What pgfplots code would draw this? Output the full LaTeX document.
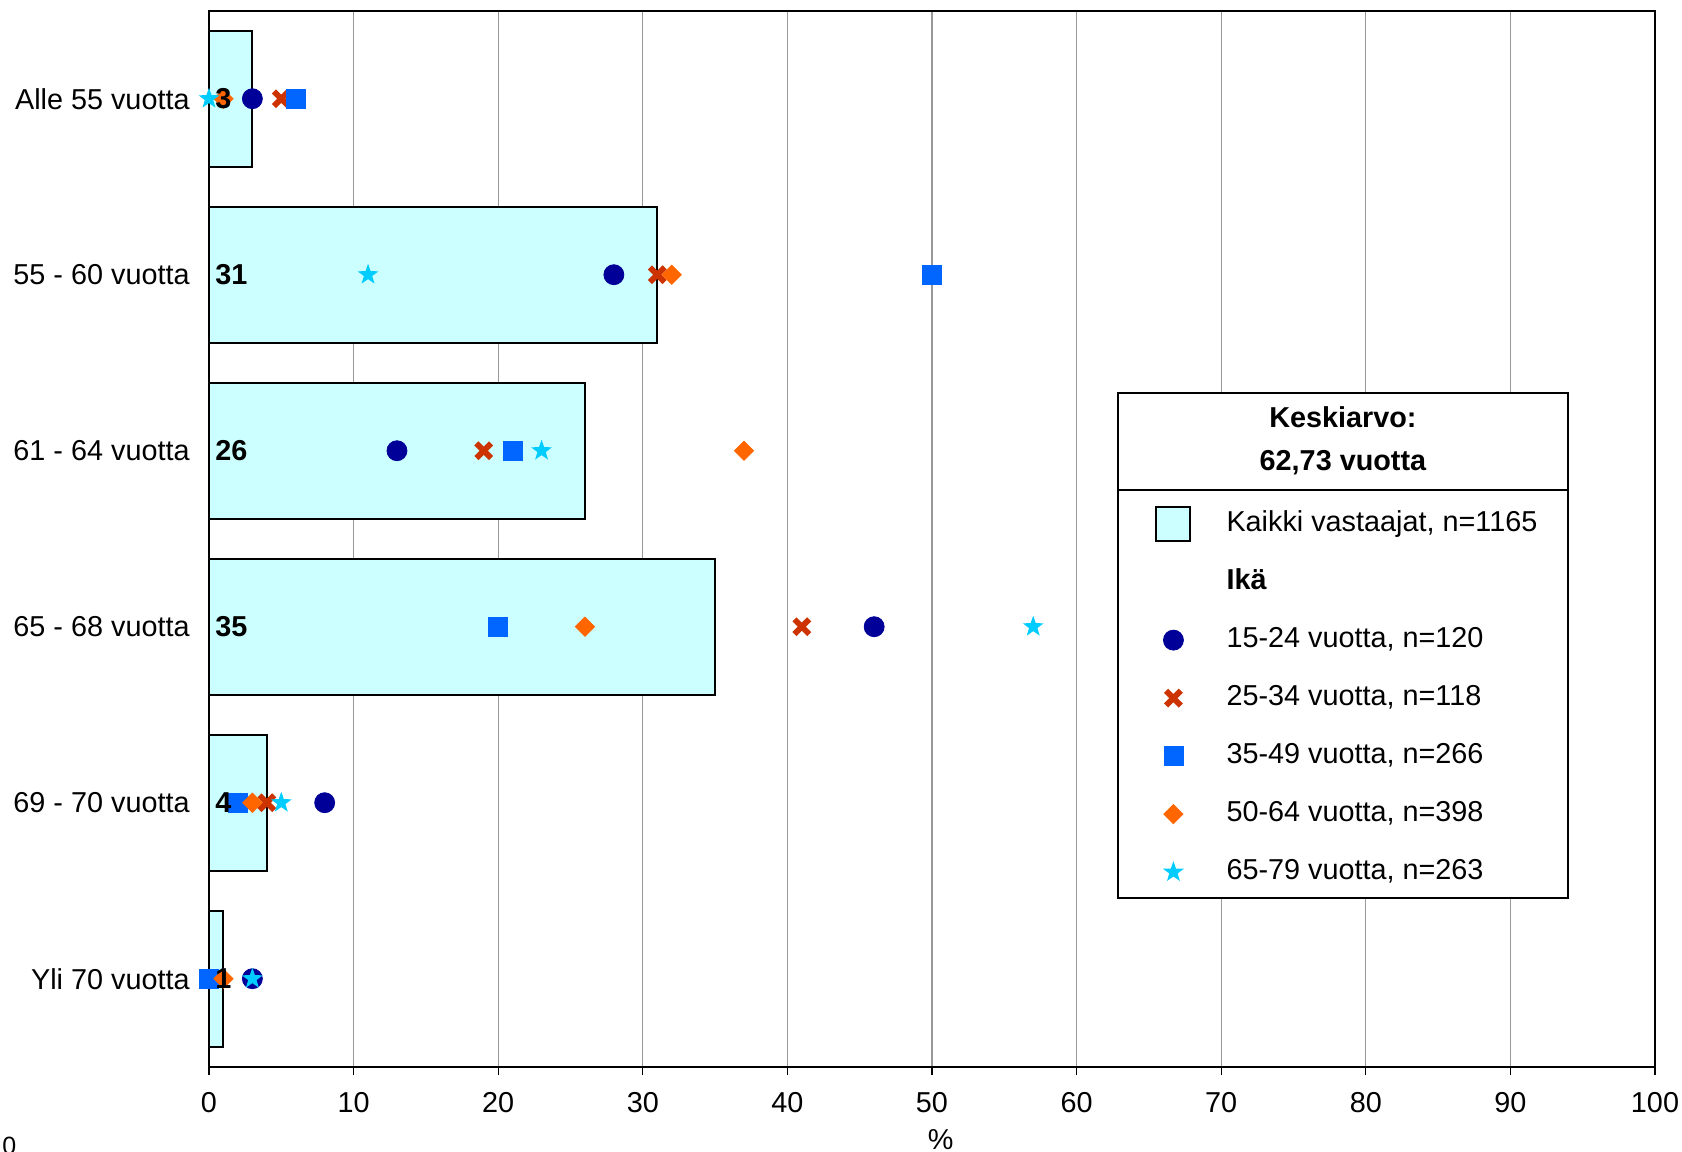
\documentclass[border=0pt]{standalone}
\usepackage{fontspec}
\setmainfont{Liberation Sans}
\usepackage{pgfplots}
\pgfplotsset{compat=1.18}
\definecolor{barfill}{HTML}{CCFFFF}
\definecolor{cnavy}{HTML}{000099}
\definecolor{ccross}{HTML}{CC3300}
\definecolor{csquare}{HTML}{0066FF}
\definecolor{cdiamond}{HTML}{FF6600}
\definecolor{cstar}{HTML}{00CCFF}
\pgfdeclareplotmark{fstar}{%
  \pgfpathmoveto{\pgfpointpolar{90}{\pgfplotmarksize}}%
  \pgfpathlineto{\pgfpointpolar{126}{0.4\pgfplotmarksize}}%
  \pgfpathlineto{\pgfpointpolar{162}{\pgfplotmarksize}}%
  \pgfpathlineto{\pgfpointpolar{198}{0.4\pgfplotmarksize}}%
  \pgfpathlineto{\pgfpointpolar{234}{\pgfplotmarksize}}%
  \pgfpathlineto{\pgfpointpolar{270}{0.4\pgfplotmarksize}}%
  \pgfpathlineto{\pgfpointpolar{306}{\pgfplotmarksize}}%
  \pgfpathlineto{\pgfpointpolar{342}{0.4\pgfplotmarksize}}%
  \pgfpathlineto{\pgfpointpolar{18}{\pgfplotmarksize}}%
  \pgfpathlineto{\pgfpointpolar{54}{0.4\pgfplotmarksize}}%
  \pgfpathclose\pgfusepathqfill}
\newcommand{\fs}{\fontsize{14.4}{17}\selectfont}
\begin{document}
\begin{tikzpicture}
\begin{axis}[
  at={(0,0)}, anchor=south west,
  scale only axis, width=723pt, height=528pt,
  xmin=0, xmax=100, ymin=-0.5, ymax=5.5, y dir=reverse,
  xtick={0,10,...,100}, ytick={0,...,5},
  yticklabels={Alle 55 vuotta, 55 - 60 vuotta, 61 - 64 vuotta, 65 - 68 vuotta, 69 - 70 vuotta, Yli 70 vuotta},
  tick align=outside, xtick pos=lower, ytick pos=left,
  major tick length=4pt,
  x tick style={black, line width=0.6pt},
  y tick style={draw=none},
  xmajorgrids, grid style={black!40, line width=0.6pt},
  axis line style={black, line width=0.8pt},
  font=\fs,
  tick label style={font=\fs},
  /pgf/number format/assume math mode=true,
  xticklabel style={inner sep=0pt, yshift=-8.5pt},
  yticklabel style={inner sep=0pt, xshift=-5.5pt, anchor=east},
  xlabel={\%},
  x label style={at={(axis description cs:0.506,0)}, anchor=center, yshift=-36.5pt, inner sep=0pt},
  clip=false,
  legend cell align=left,
  legend style={at={(0.6286,0.5426)}, anchor=north west, draw=none, fill=none,
    inner xsep=18.5pt, inner ysep=8.25pt, row sep=15.5pt, column sep=17.5pt,
    nodes={inner sep=0pt, text height=10.5pt, text depth=3pt}, font=\fs},
]
\addplot[xbar, bar width=68pt, fill=barfill, draw=black, line width=1pt,
  legend image code/.code={\draw[overlay, fill=barfill, draw=black, line width=1pt] (0.04pt,-8.5pt) rectangle (17.04pt,8.5pt); \path (0cm,0cm) (0.6cm,0cm);}]
  coordinates {(3,0) (31,1) (26,2) (35,3) (4,4) (1,5)};
\addlegendentry{Kaikki vastaajat, n=1165}
\addlegendimage{empty legend}
\addlegendentry{\textbf{Ikä}}
\addplot[only marks, mark=*, mark size=5pt, color=cnavy]
  coordinates {(3,0) (28,1) (13,2) (46,3) (8,4) (3,5)};
\addlegendentry{15-24 vuotta, n=120}
\addplot[only marks, mark=x, mark size=5.2pt, color=ccross, mark options={line width=2.9pt}]
  coordinates {(5,0) (31,1) (19,2) (41,3) (4,4) (0,5)};
\addlegendentry{25-34 vuotta, n=118}
\addplot[only marks, mark=square*, mark size=4.75pt, color=csquare]
  coordinates {(6,0) (50,1) (21,2) (20,3) (2,4) (0,5)};
\addlegendentry{35-49 vuotta, n=266}
\addplot[only marks, mark=square*, mark size=3.4pt, color=cdiamond, mark options={rotate=45}]
  coordinates {(1,0) (32,1) (37,2) (26,3) (3,4) (1,5)};
\addlegendentry{50-64 vuotta, n=398}
\addplot[only marks, mark=fstar, mark size=5.5pt, color=cstar]
  coordinates {(0,0) (11,1) (23,2) (57,3) (5,4) (3,5)};
\addlegendentry{65-79 vuotta, n=263}
\addplot[forget plot, only marks, mark=none, point meta=explicit symbolic,
  nodes near coords={\pgfplotspointmeta},
  nodes near coords style={anchor=west, inner sep=0pt, xshift=3pt, font=\fs\bfseries, text=black}]
  table[meta=v] {
x y v
0 0 3
0 1 31
0 2 26
0 3 35
0 4 4
0 5 1
};
\draw[fill=white, line width=1pt] (axis description cs:0.6286,0.6383) rectangle (axis description cs:0.9398,0.160);
\draw[line width=1pt] (axis description cs:0.6286,0.5464) -- (axis description cs:0.9398,0.5464);
\node[align=center, font=\fs\bfseries, inner sep=0pt] at (axis description cs:0.7842,0.593) {Keskiarvo:\\[4.5pt]62,73 vuotta};
\end{axis}
\node[anchor=north west, inner sep=0pt, font=\fontsize{12.5}{15}\selectfont] at (-103.5pt,-35pt) {0};
\pgfresetboundingbox
\path[use as bounding box] (-104.5pt,-42.5pt) rectangle (736.5pt,533.35pt);
\end{tikzpicture}
\end{document}
